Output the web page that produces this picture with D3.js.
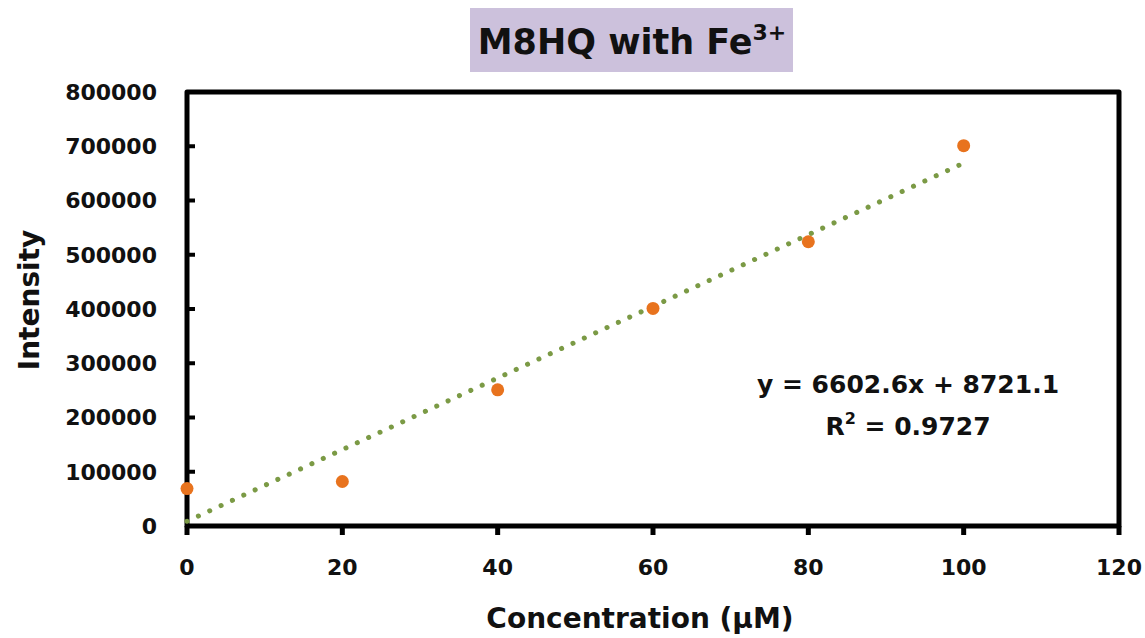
<!DOCTYPE html>
<html>
<head>
<meta charset="utf-8">
<script src="https://cdn.jsdelivr.net/npm/d3@7"></script>
<style>
  body { margin: 0; background: #fff; }
  text { font-family: "DejaVu Sans", sans-serif; font-weight: bold; fill: #111; }
</style>
</head>
<body>
<div class="chart"></div>
<script>
// data
var concentrations = [0, 20, 40, 60, 80, 100];
var intensities = [69000, 82000, 251000, 401000, 524000, 701000];
var xTicks = [0, 20, 40, 60, 80, 100, 120];
var yTicks = [0, 100000, 200000, 300000, 400000, 500000, 600000, 700000, 800000];
var slope = 6602.6, intercept = 8721.1;

var margin = {top: 92, right: 26, bottom: 112, left: 187},
    width = 1145 - margin.left - margin.right,
    height = 638 - margin.top - margin.bottom;

var svg = d3.select(".chart").append("svg")
    .attr("width", 1145)
    .attr("height", 638);

var x = d3.scaleLinear().domain([0, 120]).range([0, width]);
var y = d3.scaleLinear().domain([0, 800000]).range([height, 0]);

var g = svg.append("g")
    .attr("transform", "translate(" + margin.left + "," + margin.top + ")");

// title box
svg.append("rect")
    .attr("x", 470).attr("y", 8)
    .attr("width", 323).attr("height", 64)
    .attr("fill", "#ccc1dc");

var title = svg.append("text")
    .attr("x", 632).attr("y", 54)
    .attr("text-anchor", "middle")
    .style("font-size", "35px");
title.append("tspan").text("M8HQ with Fe");
title.append("tspan").attr("dy", -14).style("font-size", "22px").text("3+");

// ticks
g.selectAll(".ytick").data(yTicks.slice(1, -1)).enter().append("line")
    .attr("x1", 0).attr("x2", 8)
    .attr("y1", function(d) { return y(d); })
    .attr("y2", function(d) { return y(d); })
    .attr("stroke", "#000").attr("stroke-width", 4);

g.selectAll(".xtick").data(xTicks).enter().append("line")
    .attr("x1", function(d) { return x(d); })
    .attr("x2", function(d) { return x(d); })
    .attr("y1", height).attr("y2", height + 9)
    .attr("stroke", "#000").attr("stroke-width", 5);

// frame
g.append("rect")
    .attr("width", width).attr("height", height)
    .attr("fill", "none")
    .attr("stroke", "#000").attr("stroke-width", 5)
    .attr("stroke-linejoin", "round");

// tick labels
g.selectAll(".ylab").data(yTicks).enter().append("text")
    .attr("x", -30)
    .attr("y", function(d) { return y(d); })
    .attr("dy", "0.36em")
    .attr("text-anchor", "end")
    .style("font-size", "22px")
    .text(function(d) { return d; });

g.selectAll(".xlab").data(xTicks).enter().append("text")
    .attr("x", function(d) { return x(d); })
    .attr("y", 483)
    .attr("text-anchor", "middle")
    .style("font-size", "22px")
    .text(function(d) { return d; });

// axis titles
svg.append("text")
    .attr("transform", "translate(39,300) rotate(-90)")
    .attr("text-anchor", "middle")
    .style("font-size", "28px")
    .text("Intensity");

svg.append("text")
    .attr("x", 640).attr("y", 628)
    .attr("text-anchor", "middle")
    .style("font-size", "28px")
    .text("Concentration (µM)");

// trendline
g.append("line")
    .attr("x1", x(0)).attr("y1", y(intercept))
    .attr("x2", x(100)).attr("y2", y(slope * 100 + intercept))
    .attr("stroke", "#7b9a45")
    .attr("stroke-width", 5)
    .attr("stroke-linecap", "round")
    .attr("stroke-dasharray", "0.1 12.4");

// points
g.selectAll(".dot").data(concentrations).enter().append("circle")
    .attr("cx", function(d) { return x(d); })
    .attr("cy", function(d, i) { return y(intensities[i]); })
    .attr("r", 6.5)
    .attr("fill", "#e8731e");

// equation
var eq = svg.append("text")
    .attr("x", 908).attr("y", 393)
    .attr("text-anchor", "middle")
    .style("font-size", "25px")
    .text("y = 6602.6x + 8721.1");

var r2 = svg.append("text")
    .attr("x", 908).attr("y", 435)
    .attr("text-anchor", "middle")
    .style("font-size", "25px");
r2.append("tspan").text("R");
r2.append("tspan").attr("dy", -11).style("font-size", "16px").text("2");
r2.append("tspan").attr("dy", 11).text(" = 0.9727");
</script>
</body>
</html>
